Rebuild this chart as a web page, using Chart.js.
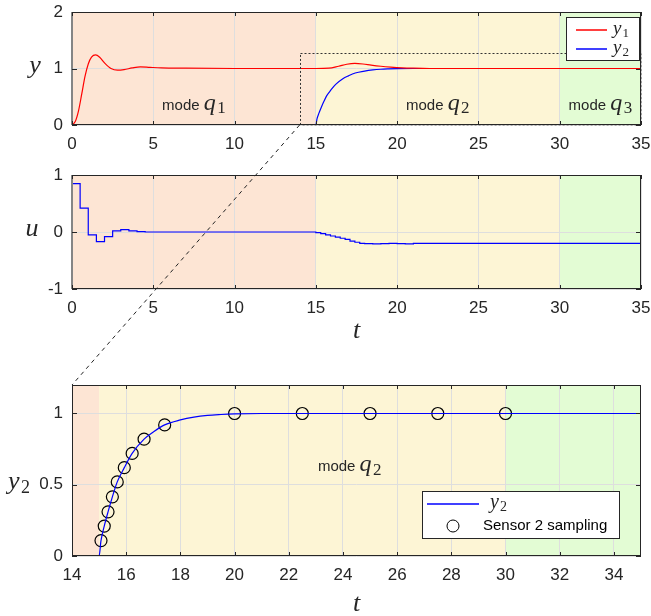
<!DOCTYPE html>
<html>
<head>
<meta charset="utf-8">
<title>Mode switching response</title>
<script src="https://cdn.jsdelivr.net/npm/chart.js@4.4.1/dist/chart.umd.min.js"></script>
<style>
  body { margin: 0; background: #fff; }
  #wrap { position: relative; width: 651px; height: 616px; overflow: hidden; }
  #wrap canvas { position: absolute; left: 0; }
  #link { top: 0; pointer-events: none; }
</style>
</head>
<body>
<div id="wrap">
  <canvas id="chartY" width="651" height="160" style="top:0px"></canvas>
  <canvas id="chartU" width="651" height="185" style="top:163px"></canvas>
  <canvas id="chartZoom" width="651" height="243" style="top:373px"></canvas>
  <canvas id="link" width="651" height="616"></canvas>
</div>
<script>
// axis ticks
const tTicks = [0, 5, 10, 15, 20, 25, 30, 35];
const tTicksZoom = [14, 16, 18, 20, 22, 24, 26, 28, 30, 32, 34];
const yTicks = [0, 1, 2];
const uTicks = [-1, 0, 1];
const y2Ticks = [0, 0.5, 1];

// operating modes q1, q2, q3
const modeStart = [0, 15, 30];
const modeEnd = [15, 30, 35];
const modeIndex = ['1', '2', '3'];

// output y1
const tY1 = [0, 0.2, 0.4, 0.6, 0.8, 1.0, 1.2, 1.45, 1.7, 2.0, 2.4, 2.8, 3.2, 3.7, 4.2, 4.8, 5.5, 7, 10, 15, 15.8, 16.4, 16.9, 17.4, 17.9, 18.4, 19, 19.6, 20.3, 21, 22, 25, 35];
const y1 = [0, 0.06, 0.25, 0.55, 0.86, 1.08, 1.2, 1.24, 1.2, 1.1, 1.0, 0.97, 0.98, 1.01, 1.03, 1.02, 1.01, 1.005, 1.0, 1.0, 1.005, 1.04, 1.075, 1.09, 1.08, 1.06, 1.04, 1.025, 1.012, 1.005, 1.0, 1.0, 1.0];

// output y2
const tY2 = [0, 15, 15.07, 15.19, 15.33, 15.49, 15.67, 15.93, 16.22, 16.66, 17, 17.42, 18, 18.5, 19, 19.5, 20, 21, 22, 35];
const y2 = [0, 0, 0.108, 0.21, 0.31, 0.415, 0.52, 0.62, 0.72, 0.82, 0.87, 0.92, 0.955, 0.975, 0.987, 0.993, 0.997, 1.0, 1.0, 1.0];

// control input u (zero-order hold)
const tU = [0, 0.5, 1.0, 1.5, 2.0, 2.5, 3.0, 3.5, 4.0, 4.5, 15, 15.3, 15.6, 15.9, 16.2, 16.5, 16.8, 17.1, 17.4, 17.7, 18, 18.5, 19, 19.5, 20, 20.5, 21, 21.5, 35];
const u = [0.85, 0.42, -0.05, -0.17, -0.08, 0.02, 0.04, 0.02, 0.005, 0, -0.01, -0.03, -0.05, -0.07, -0.09, -0.11, -0.13, -0.16, -0.18, -0.2, -0.205, -0.21, -0.205, -0.2, -0.205, -0.21, -0.2, -0.2, -0.2];

// sensor 2 event samples
const tSample = [15.07, 15.19, 15.33, 15.49, 15.67, 15.93, 16.22, 16.66, 17.42, 20, 22.5, 25, 27.5, 30];
const ySample = [0.108, 0.21, 0.31, 0.415, 0.52, 0.62, 0.72, 0.82, 0.92, 1, 1, 1, 1, 1];

// window shown in the bottom panel
const zoomT = [14, 35];
const zoomY = [0, 1.28];

const SANS = '"Liberation Sans", Arial, Helvetica, sans-serif';
const SERIF = '"Liberation Serif", "Times New Roman", serif';
const INK = '#262626';
const RED = '#ff0000';
const BLUE = '#0000ff';
const modeColors = ['#fde5d4', '#fdf5d5', '#e3fcd4'];

const pts = (xs, ys) => xs.map((x, i) => ({ x: x, y: ys[i] }));

// italic symbol with upright subscript, like the LaTeX labels
function drawMath(ctx, x, y, base, sub, size, align) {
    const subSize = Math.round(size * 0.7);
    ctx.font = `italic ${size}px ${SERIF}`;
    const w1 = ctx.measureText(base).width;
    ctx.font = `${subSize}px ${SERIF}`;
    const w2 = sub ? ctx.measureText(sub).width : 0;
    const gap = sub ? size * 0.06 : 0;
    const total = w1 + gap + w2;
    let x0 = x;
    if (align === 'center') x0 = x - total / 2;
    else if (align === 'right') x0 = x - total;
    ctx.textAlign = 'left';
    ctx.textBaseline = 'alphabetic';
    ctx.fillStyle = INK;
    ctx.font = `italic ${size}px ${SERIF}`;
    ctx.fillText(base, x0, y);
    if (sub) {
        ctx.font = `${subSize}px ${SERIF}`;
        ctx.fillText(sub, x0 + w1 + gap, y + size * 0.15);
    }
    return total;
}

function mathWidth(ctx, base, sub, size) {
    ctx.font = `italic ${size}px ${SERIF}`;
    let w = ctx.measureText(base).width;
    if (sub) {
        ctx.font = `${Math.round(size * 0.7)}px ${SERIF}`;
        w += size * 0.06 + ctx.measureText(sub).width;
    }
    return w;
}

function drawModeLabel(ctx, cx, baseY, idx) {
    const wq = mathWidth(ctx, 'q', idx, 24);
    ctx.font = `15px ${SANS}`;
    const wMode = ctx.measureText('mode ').width;
    const x0 = cx - (wMode + wq) / 2;
    ctx.fillStyle = INK;
    ctx.textAlign = 'left';
    ctx.textBaseline = 'alphabetic';
    ctx.fillText('mode', x0, baseY);
    drawMath(ctx, x0 + wMode, baseY, 'q', idx, 24, 'left');
}

// per panel decoration: labels, legend, mode text
const decor = {
    chartY: {
        yTitle: ['y', ''], yTitleX: 35, yTitleAt: 1, grayLeft: true,
        modeAt: [7.5, 22.5, 32.5], modeY: 0.27,
        zoomBox: true,
        legend: 'top'
    },
    chartU: {
        yTitle: ['u', ''], yTitleX: 32, yTitleAt: 0, grayLeft: true,
        tTitle: 49
    },
    chartZoom: {
        yTitle: ['y', '2'], yTitleX: 19, yTitleAt: 0.5,
        modeAt: [null, 24.25, null], modeY: 0.594,
        tTitle: 55,
        legend: 'bottom'
    }
};

const panelDecor = {
    id: 'panelDecor',
    beforeDraw(chart) {
        const { ctx, chartArea: a } = chart;
        const x = chart.scales.x;
        ctx.save();
        modeStart.forEach((s, i) => {
            const x0 = Math.max(a.left, x.getPixelForValue(s));
            const x1 = Math.min(a.right, x.getPixelForValue(modeEnd[i]));
            if (x1 <= x0) return;
            ctx.fillStyle = modeColors[i];
            ctx.fillRect(x0, a.top, x1 - x0, a.bottom - a.top);
        });
        ctx.restore();
    },
    afterDatasetsDraw(chart) {
        const d = decor[chart.canvas.id];
        const { ctx, chartArea: a } = chart;
        const x = chart.scales.x, y = chart.scales.y;
        ctx.save();

        // zoom window outline
        if (d.zoomBox) {
            const zx0 = x.getPixelForValue(zoomT[0]), zx1 = x.getPixelForValue(zoomT[1]);
            const zy0 = y.getPixelForValue(zoomY[0]), zy1 = y.getPixelForValue(zoomY[1]);
            ctx.setLineDash([2, 2]);
            ctx.strokeStyle = '#333';
            ctx.lineWidth = 1;
            ctx.strokeRect(Math.round(zx0) + 0.5, Math.round(zy1) + 0.5, zx1 - zx0 - 1, zy0 - zy1 - 1);
            ctx.setLineDash([]);
        }

        // box
        ctx.strokeStyle = INK;
        ctx.lineWidth = 1;
        ctx.strokeRect(Math.round(a.left) + 0.5, Math.round(a.top) + 0.5, Math.round(a.right - a.left) - 1, Math.round(a.bottom - a.top) - 1);
        if (d.grayLeft) {
            ctx.fillStyle = '#858585';
            ctx.fillRect(Math.round(a.left) - 1, a.top, 2, a.bottom - a.top);
        }

        // inward ticks on all four sides
        ctx.beginPath();
        x.ticks.forEach(t => {
            const px = Math.round(x.getPixelForValue(t.value)) + 0.5;
            ctx.moveTo(px, a.bottom); ctx.lineTo(px, a.bottom - 4);
            ctx.moveTo(px, a.top); ctx.lineTo(px, a.top + 4);
        });
        y.ticks.forEach(t => {
            const py = Math.round(y.getPixelForValue(t.value)) + 0.5;
            ctx.moveTo(a.left, py); ctx.lineTo(a.left + 5, py);
            ctx.moveTo(a.right, py); ctx.lineTo(a.right - 5, py);
        });
        ctx.stroke();

        // mode labels
        if (d.modeAt) {
            d.modeAt.forEach((t, i) => {
                if (t === null) return;
                drawModeLabel(ctx, x.getPixelForValue(t), y.getPixelForValue(d.modeY), modeIndex[i]);
            });
        }
        ctx.restore();
    },
    afterDraw(chart) {
        const d = decor[chart.canvas.id];
        const { ctx, chartArea: a } = chart;
        const y = chart.scales.y;
        ctx.save();

        // axis titles, upright as in the original
        drawMath(ctx, d.yTitleX, y.getPixelForValue(d.yTitleAt) + 4, d.yTitle[0], d.yTitle[1], 26, 'center');
        if (d.tTitle) {
            drawMath(ctx, (a.left + a.right) / 2, a.bottom + d.tTitle, 't', '', 26, 'center');
        }

        // legends
        if (d.legend === 'top') {
            const w = 73, h = 43;
            const lx = a.right - 2 - w, ly = a.top + 5;
            ctx.fillStyle = '#fff';
            ctx.fillRect(lx, ly, w, h);
            ctx.strokeStyle = INK;
            ctx.lineWidth = 1;
            ctx.strokeRect(lx + 0.5, ly + 0.5, w, h);
            [[RED, '1', 13], [BLUE, '2', 32]].forEach(([c, s, dy]) => {
                ctx.strokeStyle = c;
                ctx.lineWidth = 1.5;
                ctx.beginPath();
                ctx.moveTo(lx + 10, ly + dy); ctx.lineTo(lx + 41, ly + dy);
                ctx.stroke();
                drawMath(ctx, lx + 47, ly + dy + 4, 'y', s, 19, 'left');
            });
        } else if (d.legend === 'bottom') {
            const w = 197, h = 47;
            const lx = a.right - 22 - w, ly = a.bottom - 18 - h;
            ctx.fillStyle = '#fff';
            ctx.fillRect(lx, ly, w, h);
            ctx.strokeStyle = INK;
            ctx.lineWidth = 1;
            ctx.strokeRect(lx + 0.5, ly + 0.5, w, h);
            ctx.strokeStyle = BLUE;
            ctx.lineWidth = 1.5;
            ctx.beginPath();
            ctx.moveTo(lx + 5, ly + 13); ctx.lineTo(lx + 57, ly + 13);
            ctx.stroke();
            drawMath(ctx, lx + 68, ly + 17, 'y', '2', 20, 'left');
            ctx.strokeStyle = '#000';
            ctx.lineWidth = 1;
            ctx.beginPath();
            ctx.arc(lx + 31, ly + 35, 6, 0, Math.PI * 2);
            ctx.stroke();
            ctx.fillStyle = '#000';
            ctx.font = `15px ${SANS}`;
            ctx.textAlign = 'left';
            ctx.textBaseline = 'middle';
            ctx.fillText('Sensor 2 sampling', lx + 61, ly + 35);
        }
        ctx.restore();
    }
};

function linearAxis(min, max, ticks, fitSize, horizontal) {
    return {
        type: 'linear',
        min: min,
        max: max,
        afterBuildTicks: s => { s.ticks = ticks.map(v => ({ value: v })); },
        afterFit: s => {
            // fixed axis size, and no extra room for overhanging labels
            if (horizontal) {
                s.height = fitSize;
                s.paddingLeft = 0;
                s.paddingRight = 0;
            } else {
                s.width = fitSize;
                s.paddingTop = 0;
                s.paddingBottom = 0;
            }
        },
        ticks: {
            color: INK,
            font: { family: SANS, size: 17 },
            padding: 9,
            maxRotation: 0,
            autoSkip: false,
            callback: v => String(v)
        },
        grid: { color: '#dedede', lineWidth: 1, drawTicks: false },
        border: { display: false }
    };
}

function makeChart(id, datasets, xMin, xMax, xTicks, yMin, yMax, yTicksList, xHeight) {
    return new Chart(document.getElementById(id), {
        type: 'line',
        data: { datasets: datasets },
        options: {
            responsive: false,
            animation: false,
            events: [],
            layout: { padding: { left: 0, right: 10, top: 12, bottom: 0 } },
            scales: {
                x: linearAxis(xMin, xMax, xTicks, xHeight, true),
                y: linearAxis(yMin, yMax, yTicksList, 72, false)
            },
            plugins: {
                legend: { display: false },
                tooltip: { enabled: false }
            }
        },
        plugins: [panelDecor]
    });
}

const chartY = makeChart('chartY', [
    {
        data: pts(tY1, y1),
        borderColor: RED,
        borderWidth: 1.2,
        pointRadius: 0,
        cubicInterpolationMode: 'monotone'
    },
    {
        data: pts(tY2, y2),
        borderColor: BLUE,
        borderWidth: 1.2,
        pointRadius: 0,
        cubicInterpolationMode: 'monotone'
    }
], 0, 35, tTicks, 0, 2, yTicks, 35);

const chartU = makeChart('chartU', [
    {
        data: pts(tU, u),
        borderColor: BLUE,
        borderWidth: 1.2,
        pointRadius: 0,
        stepped: true
    }
], 0, 35, tTicks, -1, 1, uTicks, 59);

const chartZoom = makeChart('chartZoom', [
    {
        data: pts(tY2, y2),
        borderColor: BLUE,
        borderWidth: 1.2,
        pointRadius: 0,
        cubicInterpolationMode: 'monotone'
    },
    {
        data: pts(tSample, ySample),
        showLine: false,
        pointStyle: 'circle',
        pointRadius: 6,
        pointBorderWidth: 1.2,
        pointBorderColor: '#000',
        pointBackgroundColor: 'rgba(0,0,0,0)'
    }
], 14, 35, tTicksZoom, 0, 1.2, y2Ticks, 60);

// dashed connector from the zoom window to the bottom panel
const link = document.getElementById('link').getContext('2d');
const topY = document.getElementById('chartY').offsetTop;
const topZ = document.getElementById('chartZoom').offsetTop;
const p0 = {
    x: chartY.scales.x.getPixelForValue(zoomT[0]),
    y: chartY.scales.y.getPixelForValue(zoomY[0]) + topY
};
const p1 = { x: chartZoom.chartArea.left, y: chartZoom.chartArea.top + topZ };
link.setLineDash([4, 4]);
link.strokeStyle = '#222';
link.lineWidth = 1;
link.beginPath();
link.moveTo(p0.x, p0.y);
link.lineTo(p1.x, p1.y);
link.stroke();
</script>
</body>
</html>
